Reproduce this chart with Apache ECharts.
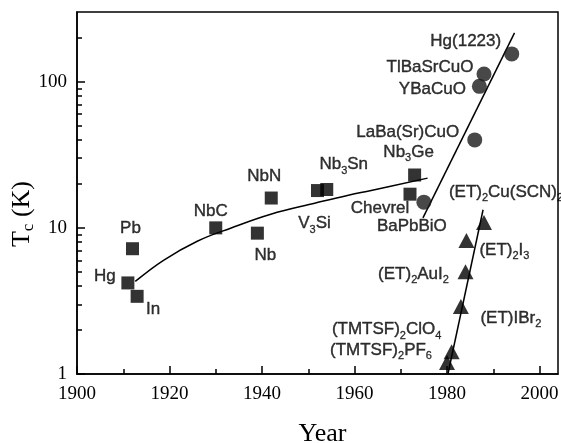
<!DOCTYPE html>
<html>
<head>
<meta charset="utf-8">
<script src="https://cdn.jsdelivr.net/npm/echarts@6/dist/echarts.min.js"></script>
<style>html,body{margin:0;padding:0;background:#fff}#c{width:561px;height:443px}</style>
</head>
<body>
<div id="c"></div>
<script>
// ---- data ----
const squareLabels = ['Hg','Pb','In','NbC','Nb','NbN','{n|V}{s|3}{n|Si}','{n|Nb}{s|3}{n|Sn}','{n|Nb}{s|3}{n|Ge}','Chevrel'];
const squareYears  = [1911, 1912, 1913, 1930, 1939, 1942, 1952, 1954, 1973, 1972];
const squareTc     = [4.2, 7.2, 3.4, 10, 9.2, 16, 18, 18.3, 23, 17];

const circleLabels = ['BaPbBiO','LaBa(Sr)CuO','YBaCuO','TlBaSrCuO','Hg(1223)'];
const circleYears  = [1975, 1986, 1987, 1988, 1994];
const circleTc     = [15, 40, 93, 113, 155];

const triLabels = ['{n|(TMTSF)}{s|2}{n|PF}{s|6}','{n|(TMTSF)}{s|2}{n|ClO}{s|4}','{n|(ET)IBr}{s|2}','{n|(ET)}{s|2}{n|AuI}{s|2}','{n|(ET)}{s|2}{n|I}{s|3}','{n|(ET)}{s|2}{n|Cu(SCN)}{s|2}'];
const triYears  = [1980, 1981, 1983, 1984, 1984.2, 1988];
const triTc     = [1.2, 1.42, 2.9, 5.0, 8.2, 10.9];

const fitOldYears = [1912.6, 1918.7, 1926, 1933.2, 1941.9, 1951.6, 1958.9, 1963.6, 1975.8];
const fitOldTc    = [4.3, 6.0, 8.1, 9.95, 12.4, 14.8, 16.8, 18.0, 21.9];
const fitCupYears = [1974.8, 1994.6];
const fitCupTc    = [11.7, 216];
const fitOrgYears = [1980.2, 1987.8];
const fitOrgTc    = [1.0, 13.3];

const xMajorTicks = [1900, 1920, 1940, 1960, 1980, 2000];
const xMinorTicks = [1910, 1930, 1950, 1970, 1990];
const yMajorTicks = [1, 10, 100];
const yMinorTicks = [2,3,4,5,6,7,8,9,20,30,40,50,60,70,80,90,200];

// ---- label layout (text centre offset from marker centre, px) ----
const squareOffsets = [[-23,-7],[-2,-20],[16,13],[-5,-17],[8,22],[-7,-22],[-3,33],[17,-25],[-6,-23],[-30,14]];
const circleOffsets = [[-12,24],[-67,-8],[-47,3],[-54,-7],[-46,-13]];
const triOffsets    = [[-66,-12],[-65,-22],[50,12],[-52,2],[38,10],[22,-30]];

const SANS = 'Liberation Sans';
const SERIF = 'Liberation Serif';
const rich = {
  n: {fontFamily: SANS, fontSize: 17, color: '#000', textBorderColor: '#000', textBorderWidth: 0.4},
  s: {fontFamily: SANS, fontSize: 11, color: '#000', textBorderColor: '#000', textBorderWidth: 0.3, padding: [12, 0, 0, 0]}
};
function pts(xs, ys, labels, offs) {
  return xs.map((x, i) => {
    const d = {value: [x, ys[i]]};
    if (labels) {
      const t = labels[i];
      d.label = {show: true, position: 'inside', offset: offs[i],
        formatter: t.indexOf('{') >= 0 ? t : '{n|' + t + '}'};
    }
    return d;
  });
}
const labelBase = {show: true, color: '#000', rich: rich, fontFamily: SANS, fontSize: 17};
const plain = v => String(v);

const chart = echarts.init(document.getElementById('c'), null, {renderer: 'canvas'});
chart.setOption({
  animation: false,
  backgroundColor: '#fff',
  grid: {left: 77, right: 3, top: 12, bottom: 69, show: true, borderColor: '#000', borderWidth: 1.5,
         backgroundColor: 'transparent', containLabel: false, outerBoundsMode: 'none'},
  xAxis: [{
    type: 'value', min: 1900, max: 2004, gridIndex: 0,
    name: 'Year', nameLocation: 'middle', nameGap: 47, nameMoveOverlap: false,
    nameTextStyle: {fontFamily: SERIF, fontSize: 26, color: '#000', padding: [0, 0, 0, 10]},
    axisLine: {show: true, lineStyle: {color: '#000', width: 1.5}},
    axisTick: {show: true, inside: true, length: 8, lineStyle: {color: '#000', width: 1.5}, customValues: xMajorTicks},
    axisLabel: {fontFamily: SERIF, fontSize: 19, color: '#000', margin: 11, customValues: xMajorTicks, formatter: plain},
    splitLine: {show: false}
  }, {
    type: 'value', min: 1900, max: 2004, gridIndex: 0, position: 'bottom',
    axisLine: {show: false},
    axisTick: {show: true, inside: true, length: 5, lineStyle: {color: '#000', width: 1.5}, customValues: xMinorTicks},
    axisLabel: {show: false},
    splitLine: {show: false}
  }],
  yAxis: [{
    type: 'log', logBase: 10, min: 1, max: 300, gridIndex: 0,
    name: '{t|T}{c|c}{t| (K)}', nameLocation: 'middle', nameGap: 40, nameMoveOverlap: false,
    nameTextStyle: {fontFamily: SERIF, fontSize: 26, color: '#000', padding: [0, 42, 0, 0],
      rich: {t: {fontFamily: SERIF, fontSize: 26, color: '#000'}, c: {fontFamily: SERIF, fontSize: 17, color: '#000', padding: [12,0,0,0]}}},
    axisLine: {show: true, lineStyle: {color: '#000', width: 1.5}},
    axisTick: {show: true, inside: true, length: 8, lineStyle: {color: '#000', width: 1.5}, customValues: yMajorTicks},
    axisLabel: {fontFamily: SERIF, fontSize: 19, color: '#000', margin: 10, customValues: yMajorTicks, formatter: plain},
    splitLine: {show: false}
  }, {
    type: 'log', logBase: 10, min: 1, max: 300, gridIndex: 0, position: 'left',
    axisLine: {show: false},
    axisTick: {show: true, inside: true, length: 5, lineStyle: {color: '#000', width: 1.5}, customValues: yMinorTicks},
    axisLabel: {show: false},
    splitLine: {show: false}
  }],
  series: [
    {type: 'line', data: pts(fitOldYears, fitOldTc), smooth: 0.4, showSymbol: false, symbol: 'none',
     lineStyle: {color: '#000', width: 1.5}, z: 1},
    {type: 'line', data: pts(fitCupYears, fitCupTc), showSymbol: false, symbol: 'none',
     lineStyle: {color: '#000', width: 1.5}, z: 1},
    {type: 'line', data: pts(fitOrgYears, fitOrgTc), showSymbol: false, symbol: 'none',
     lineStyle: {color: '#000', width: 1.5}, z: 1},
    {type: 'scatter', data: pts(squareYears, squareTc, squareLabels, squareOffsets), symbol: 'rect', symbolSize: 13,
     itemStyle: {color: '#000'}, label: labelBase, z: 3},
    {type: 'scatter', data: pts(circleYears, circleTc, circleLabels, circleOffsets), symbol: 'circle', symbolSize: 15,
     itemStyle: {color: '#1a1a1a'}, label: labelBase, z: 3},
    {type: 'scatter', data: pts(triYears, triTc, triLabels, triOffsets), symbol: 'triangle', symbolSize: [16, 15],
     itemStyle: {color: '#000'}, label: labelBase, z: 3}
  ]
});
</script>
</body>
</html>
